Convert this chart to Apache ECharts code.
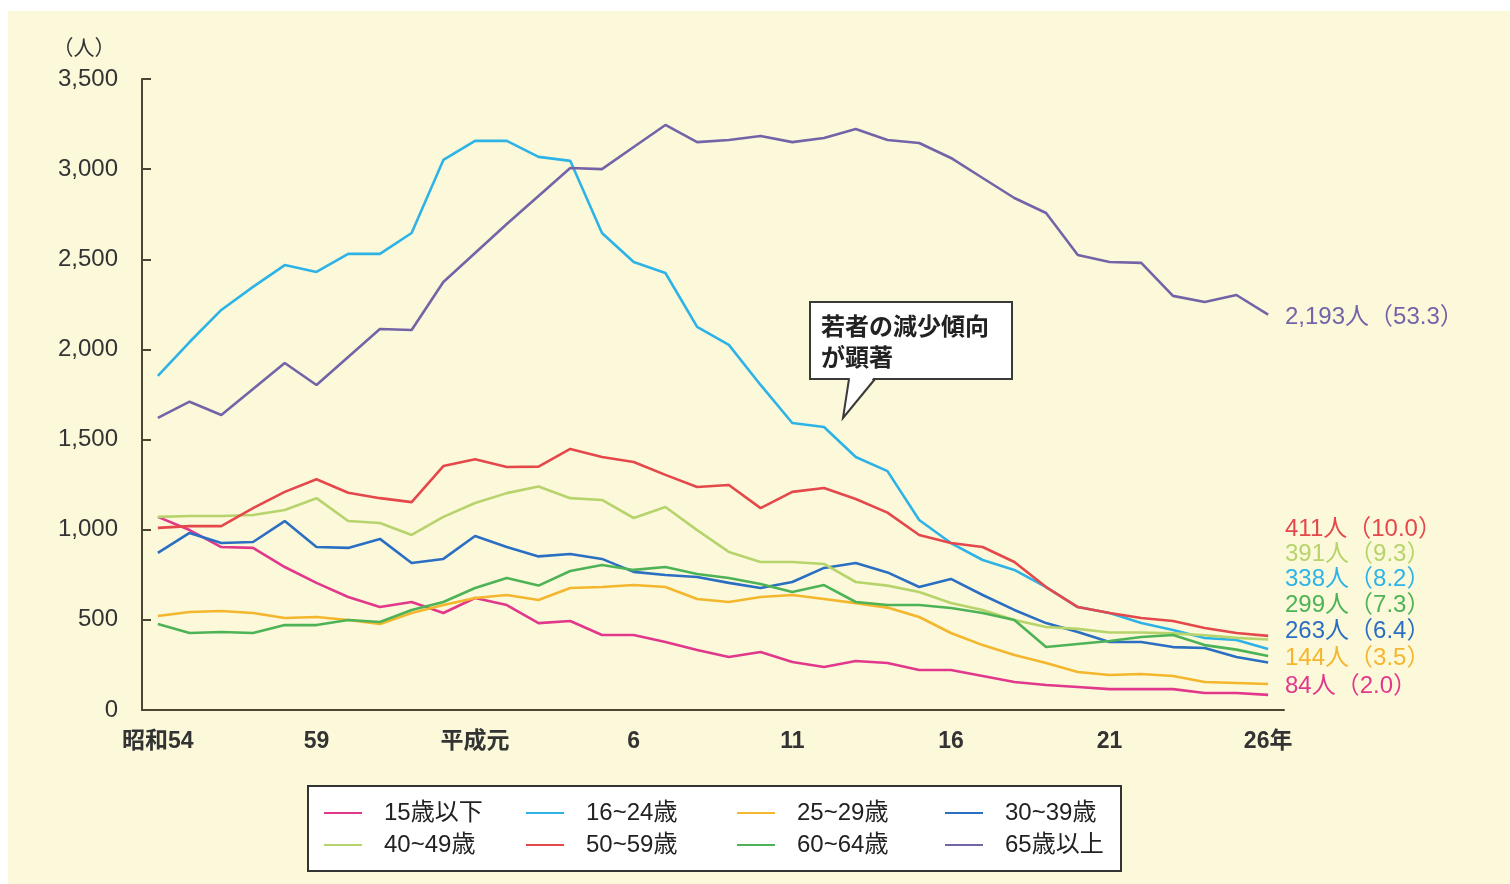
<!DOCTYPE html>
<html lang="ja">
<head>
<meta charset="utf-8">
<title>年齢層別死者数の推移</title>
<script src="https://cdn.jsdelivr.net/npm/echarts@6/dist/echarts.min.js"></script>
<style>
  html, body { margin: 0; padding: 0; background: #ffffff; }
  #chart { width: 1510px; height: 884px; }
</style>
</head>
<body>
<div id="chart"></div>
<script>
// 年次（昭和54年〜平成26年）
const years = ['昭和54','55','56','57','58','59','60','61','62','63',
  '平成元','2','3','4','5','6','7','8','9','10',
  '11','12','13','14','15','16','17','18','19','20',
  '21','22','23','24','25','26年'];

// 年齢層名
const groups = ['15歳以下','16~24歳','25~29歳','30~39歳','40~49歳','50~59歳','60~64歳','65歳以上'];

// 年齢層別の人数（人）
const age15 = [1071, 998, 904, 899, 793, 705, 627, 571, 599, 538, 621, 582, 482, 494, 416, 416, 377, 333,
  294, 322, 266, 239, 272, 261, 222, 222, 189, 155, 139, 128, 116, 116, 116, 94, 94, 84];
const age16 = [1853, 2041, 2219, 2347, 2468, 2430, 2530, 2530, 2646, 3051, 3157, 3157, 3068, 3046, 2646, 2485, 2424, 2125,
  2025, 1803, 1592, 1570, 1403, 1325, 1054, 926, 832, 777, 682, 571, 538, 482, 444, 399, 388, 338];
const age25 = [521, 544, 549, 538, 510, 516, 499, 477, 538, 582, 621, 638, 610, 677, 682, 693, 682, 616,
  599, 627, 638, 616, 593, 568, 516, 427, 360, 305, 261, 211, 194, 200, 189, 155, 150, 144];
const age30 = [871, 982, 926, 932, 1048, 904, 899, 949, 815, 838, 965, 904, 852, 865, 838, 766, 749, 738,
  705, 677, 710, 788, 815, 763, 682, 727, 638, 555, 482, 433, 377, 377, 349, 344, 294, 263];
const age40 = [1071, 1076, 1076, 1082, 1109, 1175, 1048, 1037, 971, 1071, 1148, 1203, 1240, 1175, 1165, 1065, 1126, 998,
  877, 821, 821, 810, 710, 690, 655, 593, 555, 499, 460, 450, 430, 430, 425, 415, 400, 391];
const age50 = [1010, 1020, 1020, 1120, 1210, 1280, 1205, 1175, 1153, 1353, 1391, 1348, 1350, 1448, 1403, 1376, 1304, 1237,
  1248, 1120, 1210, 1231, 1170, 1095, 971, 926, 904, 821, 682, 571, 538, 510, 494, 455, 427, 411];
const age60 = [477, 427, 433, 427, 471, 471, 499, 488, 555, 599, 677, 732, 690, 771, 804, 777, 793, 754,
  732, 699, 655, 693, 599, 582, 582, 566, 538, 499, 349, 366, 383, 405, 416, 360, 335, 299];
const age65 = [1620, 1710, 1636, 1780, 1925, 1803, 1958, 2113, 2108, 2374, 2535, 2696, 2851, 3006, 3000, 3123, 3245, 3150,
  3162, 3184, 3150, 3173, 3223, 3162, 3145, 3062, 2951, 2840, 2757, 2524, 2485, 2480, 2297, 2263, 2302, 2193];

// 平成26年の構成率（%）
const shares = [2.0, 8.2, 3.5, 6.4, 9.3, 10.0, 7.3, 53.3];

// y軸目盛
const yMin = 0, yMax = 3500, yStep = 500;

const seriesData = [age15, age16, age25, age30, age40, age50, age60, age65];
const colors = ['#e2388c', '#2db3e6', '#f4b62c', '#2a6fc2', '#b7d46c', '#e4484a', '#4db356', '#7563a7'];

// 右端ラベルの縦位置（上から 65歳以上, 50~59, 40~49, 16~24, 60~64, 30~39, 25~29, 15歳以下）
const endLabelOrder = [7, 5, 4, 1, 6, 3, 2, 0];
const endLabelY = [318, 530, 555, 580, 606, 632, 659, 687];

// 凡例の配置（4列×2行）
const legendColX = [324, 526, 737, 945];
const legendRowY = [801, 833];

const axisColor = '#4b4634';
const latin = '"Liberation Sans", Arial, "Noto Sans CJK JP", sans-serif';
const cjk = '"Noto Sans CJK JP", "Liberation Sans", sans-serif';

const chart = echarts.init(document.getElementById('chart'), null, { renderer: 'canvas' });

const fmt = v => v.toLocaleString('en-US');

const endLabels = endLabelOrder.map((si, k) => {
  const arr = seriesData[si];
  const last = arr[arr.length - 1];
  return {
    type: 'text',
    left: 1285,
    top: endLabelY[k] - 13,
    silent: true,
    z: 10,
    style: {
      text: fmt(last) + '人（' + shares[si].toFixed(1) + '）',
      fill: colors[si],
      font: '24px ' + latin
    }
  };
});

// 凡例は1項目ずつ格子状に並べる
const legends = groups.map((g, i) => ({
  data: [g],
  left: legendColX[i % 4],
  top: legendRowY[Math.floor(i / 4)],
  padding: 0,
  itemWidth: 38,
  itemHeight: 14,
  icon: 'path://M0,6 L38,6 L38,8 L0,8 Z',
  formatter: name => '{t|' + name + '}',
  textStyle: {
    color: '#222',
    rich: {
      t: { padding: [0, 0, 0, 17], fontSize: 24, color: '#222', fontFamily: latin }
    }
  }
}));

const option = {
  backgroundColor: '#ffffff',
  animation: false,
  color: colors,
  grid: { left: 142, right: 226, top: 79, bottom: 174, containLabel: false },
  xAxis: {
    type: 'category',
    data: years,
    boundaryGap: true,
    axisLine: { lineStyle: { color: axisColor, width: 2 } },
    axisTick: { inside: true, length: 9, interval: 0, lineStyle: { color: axisColor, width: 2 } },
    axisLabel: { interval: 4, margin: 20, fontSize: 23, fontWeight: 'bold', color: '#333', fontFamily: latin },
    splitLine: { show: false }
  },
  yAxis: {
    type: 'value',
    min: yMin,
    max: yMax,
    interval: yStep,
    name: '（人）',
    nameLocation: 'end',
    nameGap: 32,
    nameTextStyle: { fontSize: 21, color: '#333', fontFamily: cjk, align: 'center', verticalAlign: 'middle', padding: [0, 116, 0, 0] },
    axisLine: { show: true, lineStyle: { color: axisColor, width: 2 } },
    axisTick: { show: true, inside: true, length: 9, lineStyle: { color: axisColor, width: 2 } },
    axisLabel: { formatter: v => fmt(v), margin: 24, fontSize: 24, color: '#333', fontFamily: latin },
    splitLine: { show: false }
  },
  legend: legends,
  series: groups.map((g, i) => ({
    name: g,
    type: 'line',
    data: seriesData[i],
    symbol: 'none',
    smooth: false,
    lineStyle: { width: 2.6, color: colors[i] },
    itemStyle: { color: colors[i] },
    z: 3
  })),
  graphic: [
    // 背景
    { type: 'rect', left: 8, top: 11, z: -10, silent: true,
      shape: { width: 1502, height: 873 }, style: { fill: '#fcf8da' } },
    // 凡例枠
    { type: 'rect', left: 307, top: 785, z: -5, silent: true,
      shape: { width: 813, height: 85 }, style: { fill: '#ffffff', stroke: '#333', lineWidth: 2 } },
    // 吹き出し
    { type: 'group', z: 20, silent: true, children: [
      { type: 'rect', shape: { x: 810, y: 302, width: 202, height: 77 },
        style: { fill: '#ffffff', stroke: '#3a3a3a', lineWidth: 2 } },
      { type: 'polygon', shape: { points: [[850, 377], [874, 377], [843, 418]] },
        style: { fill: '#ffffff', stroke: null } },
      { type: 'polyline', shape: { points: [[849, 379], [843, 418], [875, 379]] },
        style: { fill: null, stroke: '#3a3a3a', lineWidth: 2 } },
      { type: 'text', x: 821, y: 310,
        style: { text: '若者の減少傾向\nが顕著', font: 'bold 24px ' + cjk, fill: '#222', lineHeight: 31 } }
    ]}
  ].concat(endLabels)
};

chart.setOption(option);
</script>
</body>
</html>
